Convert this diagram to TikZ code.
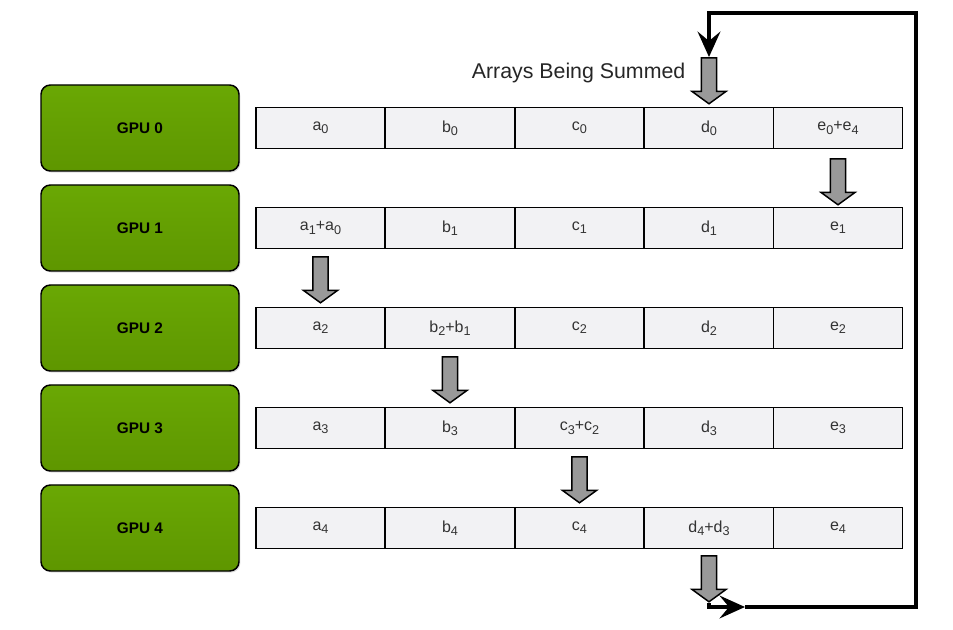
\documentclass[tikz,border=0pt]{standalone}
\usepackage{fontspec}
\setmainfont{Liberation Sans}
\usetikzlibrary{shapes.arrows,arrows.meta,shadows}
\definecolor{gpugreen}{RGB}{106,168,4}
\definecolor{gpudark}{RGB}{94,150,0}
\definecolor{cellgray}{RGB}{242,242,244}
\definecolor{movegray}{RGB}{153,153,153}
\definecolor{txtgray}{RGB}{51,51,51}
\newcommand{\ix}[1]{\raisebox{-0.4ex}{\fontsize{9.5}{10}\selectfont #1}}
\tikzset{
  gpu/.style={draw, line width=1.1pt, rounded corners=7pt, top color=gpugreen, bottom color=gpudark,
    minimum width=148.5pt, minimum height=64.5pt, font=\fontsize{11.5}{13}\selectfont\bfseries,
    drop shadow={opacity=0.25, shadow xshift=1pt, shadow yshift=-1.2pt}},
  cell/.style={draw, line width=1.1pt, fill=cellgray, minimum width=97pt, minimum height=30.75pt,
    inner sep=0pt, text=txtgray, font=\fontsize{12}{14}\selectfont},
  blockarrow/.style={single arrow, draw, line width=1.1pt, fill=movegray, rotate=-90,
    minimum height=34.5pt, inner xsep=0pt, inner ysep=5.2pt, single arrow head extend=7pt,
    single arrow tip angle=108},
  loopline/.style={line width=3pt, line join=miter},
  looptip/.style={-{Stealth[length=19pt, width=17pt, inset=7pt]}}
}
\begin{document}
\begin{tikzpicture}[x=0.75pt, y=-0.75pt]
    \useasboundingbox (0,0) rectangle (953,630);
    % GPU 0
    \node[gpu] (g0) at (140,128) {GPU 0};
    \node[cell] (a0) at (320.5,128) {a\ix{0}};
    \node[cell] (b0) at (450,128) {b\ix{0}};
    \node[cell] (c0) at (579.5,128) {c\ix{0}};
    \node[cell] (d0) at (709,128) {d\ix{0}};
    \node[cell] (e0) at (838,128) {e\ix{0}+e\ix{4}};
    % GPU 1
    \node[gpu] (g1) at (140,228) {GPU 1};
    \node[cell] (a1) at (320.5,228) {a\ix{1}+a\ix{0}};
    \node[cell] (b1) at (450,228) {b\ix{1}};
    \node[cell] (c1) at (579.5,228) {c\ix{1}};
    \node[cell] (d1) at (709,228) {d\ix{1}};
    \node[cell] (e1) at (838,228) {e\ix{1}};
    % GPU 2
    \node[gpu] (g2) at (140,328) {GPU 2};
    \node[cell] (a2) at (320.5,328) {a\ix{2}};
    \node[cell] (b2) at (450,328) {b\ix{2}+b\ix{1}};
    \node[cell] (c2) at (579.5,328) {c\ix{2}};
    \node[cell] (d2) at (709,328) {d\ix{2}};
    \node[cell] (e2) at (838,328) {e\ix{2}};
    % GPU 3
    \node[gpu] (g3) at (140,428) {GPU 3};
    \node[cell] (a3) at (320.5,428) {a\ix{3}};
    \node[cell] (b3) at (450,428) {b\ix{3}};
    \node[cell] (c3) at (579.5,428) {c\ix{3}+c\ix{2}};
    \node[cell] (d3) at (709,428) {d\ix{3}};
    \node[cell] (e3) at (838,428) {e\ix{3}};
    % GPU 4
    \node[gpu] (g4) at (140,528) {GPU 4};
    \node[cell] (a4) at (320.5,528) {a\ix{4}};
    \node[cell] (b4) at (450,528) {b\ix{4}};
    \node[cell] (c4) at (579.5,528) {c\ix{4}};
    \node[cell] (d4) at (709,528) {d\ix{4}+d\ix{3}};
    \node[cell] (e4) at (838,528) {e\ix{4}};
    % moves between the GPUs
    \node[blockarrow] (mv0) at (709,78) {};
    \node[blockarrow] (mv1) at (838,179) {};
    \node[blockarrow] (mv2) at (320.5,277) {};
    \node[blockarrow] (mv3) at (450,377) {};
    \node[blockarrow] (mv4) at (579.5,477) {};
    \node[blockarrow] (mv5) at (709,576) {};
    \node[anchor=east, font=\fontsize{16}{18}\selectfont, text=black!85] (title) at (690,73) {Arrays Being Summed};
    % ring back to GPU 0
    \coordinate (mid) at (745,607);
    \coordinate (br) at (916,607);
    \coordinate (tr) at (916,13);
    \draw[loopline, looptip] (mv5.tip) |- (mid);
    \draw[loopline, looptip] (mid) -- (br) -- (tr) -| (mv0.tail);
  \end{tikzpicture}
\end{document}
